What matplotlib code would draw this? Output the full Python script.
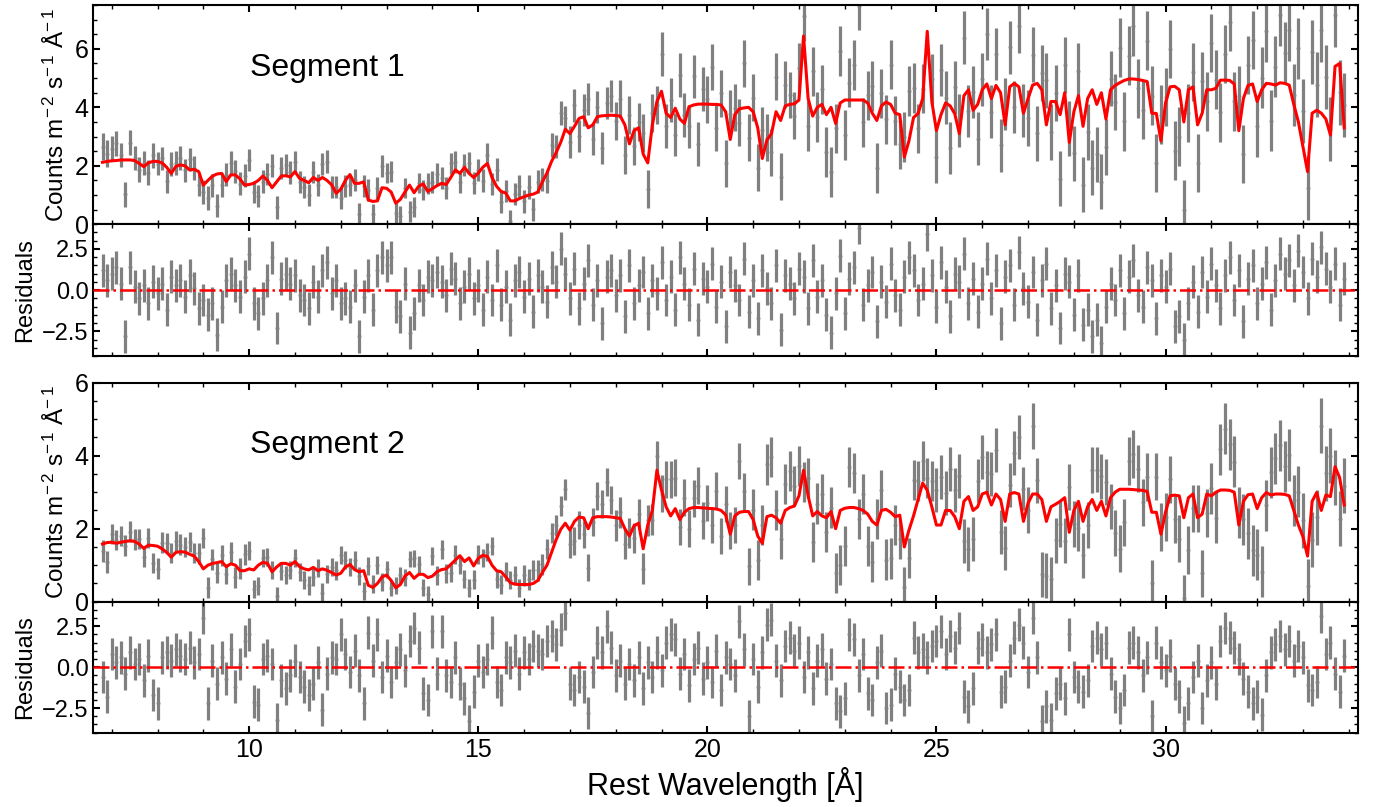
import numpy as np
import matplotlib
matplotlib.use("Agg")
import matplotlib.pyplot as plt
from matplotlib.ticker import MultipleLocator

plt.rcParams['font.family'] = ['Liberation Sans', 'DejaVu Sans']
plt.rcParams['mathtext.fontset'] = 'custom'
plt.rcParams['mathtext.rm'] = 'Liberation Sans'
plt.rcParams['mathtext.it'] = 'Liberation Sans:italic'
plt.rcParams['mathtext.default'] = 'regular'

# rest wavelength bins, 0.1 A wide
wave = np.round(np.arange(6.8, 33.95, 0.1), 1)

# ---- Segment 1 ----
model1 = [
    2.12, 2.15,
    2.17, 2.18, 2.20, 2.20, 2.20, 2.18, 2.08, 1.97, 2.10, 2.15,
    2.15, 2.10, 1.95, 1.74, 1.98, 2.03, 2.00, 1.86, 1.88, 1.80,
    1.34, 1.50, 1.65, 1.72, 1.74, 1.46, 1.69, 1.69, 1.55, 1.34,
    1.36, 1.40, 1.50, 1.65, 1.50, 1.25, 1.45, 1.65, 1.66, 1.62,
    1.80, 1.57, 1.50, 1.42, 1.60, 1.50, 1.60, 1.50, 1.35, 1.06,
    1.20, 1.50, 1.70, 1.40, 1.40, 1.45, 0.83, 0.78, 0.80, 1.25,
    1.23, 1.10, 0.72, 0.85, 1.10, 1.34, 1.08, 1.30, 1.38, 1.12,
    1.22, 1.32, 1.40, 1.36, 1.60, 1.86, 1.74, 1.95, 1.74, 1.60,
    1.75, 1.95, 2.08, 1.60, 1.30, 1.12, 1.07, 0.80, 0.80, 0.88,
    0.94, 1.00, 1.03, 1.10, 1.45, 1.75, 2.15, 2.45, 2.80, 3.25,
    3.10, 3.35, 3.62, 3.68, 3.30, 3.40, 3.68, 3.71, 3.72, 3.73,
    3.72, 3.70, 3.40, 2.75, 3.20, 3.30, 2.40, 2.10, 3.40, 4.20,
    4.55, 3.80, 3.65, 3.97, 3.60, 3.45, 4.02, 4.08, 4.11, 4.11,
    4.11, 4.10, 4.10, 4.08, 3.85, 2.90, 3.75, 3.95, 3.98, 4.00,
    3.85, 3.30, 2.25, 2.88, 3.10, 3.85, 3.55, 4.05, 4.10, 4.12,
    4.25, 6.44, 4.30, 3.70, 4.00, 4.10, 3.75, 4.00, 3.45, 4.15,
    4.25, 4.25, 4.25, 4.25, 4.25, 4.15, 3.80, 3.55, 4.05, 4.18,
    4.10, 3.80, 3.75, 2.30, 2.85, 3.65, 3.79, 4.30, 6.60, 4.20,
    3.20, 3.75, 4.15, 4.05, 3.78, 3.10, 4.40, 4.60, 3.90, 4.10,
    4.60, 4.80, 4.30, 4.75, 4.50, 3.40, 4.70, 4.82, 4.70, 3.80,
    4.30, 4.76, 4.82, 4.60, 3.40, 4.20, 4.20, 3.75, 4.50, 2.80,
    3.85, 4.40, 3.35, 4.30, 4.60, 4.10, 4.50, 3.60, 4.60, 4.75,
    4.84, 4.92, 4.97, 4.97, 4.95, 4.92, 4.88, 3.80, 3.79, 2.85,
    4.15, 4.70, 4.72, 4.60, 3.50, 4.60, 4.70, 3.40, 3.80, 4.60,
    4.60, 4.65, 4.93, 4.93, 4.92, 4.80, 3.20, 4.30, 4.75, 4.80,
    4.20, 4.60, 4.82, 4.80, 4.76, 4.84, 4.82, 4.76, 4.10, 3.50,
    2.66, 1.80, 3.80, 3.90, 3.80, 3.60, 3.05, 5.40, 5.50, 3.30,
]
resid1 = [
    1.2, 0.6,
    1.0, 1.4, 0.4, -2.8, 1.4, 0.2, -0.5, 0.3, -0.8, 0.5,
    -0.2, 0.4, -1.2, 0.8, 0.3, 0.6, -0.4, 0.9, 0.1, -1.1,
    -0.6, -1.5, -0.8, -2.7, -1.0, 0.6, 1.0, 0.3, -0.4, 0.8,
    2.2, -0.8, -1.4, -0.5, 0.6, 2.0, -2.3, 0.7, 1.0, 0.4,
    0.9, -0.3, -0.6, -1.1, 0.5, -0.4, 1.2, 1.7, -0.2, 0.6,
    -0.8, -0.5, -1.0, 0.3, -2.8, -0.4, 0.9, -1.2, 1.2, 2.0,
    1.5, 2.0, -1.0, -1.6, 0.4, -2.6, -1.4, 0.3, -0.6, 0.8,
    0.6, 1.1, 0.5, -0.3, 1.3, 0.7, -0.8, 0.2, 1.0, -0.5,
    0.3, -1.2, 0.8, -0.6, 1.5, -0.9, 0.2, -1.8, 0.6, 1.1,
    -0.4, 0.7, -1.3, 0.9, 0.2, -0.7, 1.4, 0.5, 2.5, 1.0,
    -0.5, 1.3, -1.1, 0.4, 1.8, -0.9, 0.6, -2.0, 0.8, 1.2,
    -0.3, 0.9, -1.6, 1.5, -0.8, 0.3, 1.1, -1.4, 0.6, -0.2,
    1.7, -0.6, 0.8, -1.2, 2.0, 0.4, -0.9, 1.3, -1.8, 0.7,
    0.2, 1.6, -1.0, 0.5, -2.2, 1.1, 0.3, -0.6, 1.9, -1.3,
    0.6, -1.7, 1.2, 0.1, -0.8, 1.5, -2.4, 0.9, 0.4, -0.5,
    1.3, 0.8, -1.1, 1.8, -0.4, 0.6, -1.5, -2.6, -0.2, 2.1,
    -1.4, 0.7, 1.4, 3.8, -0.9, 0.3, 1.1, -1.9, 0.5, -0.7,
    1.6, -0.3, -1.2, 0.8, 2.0, 1.2, -0.6, 0.4, 3.4, 0.9,
    -1.0, 1.7, 0.2, -1.6, 1.0, 0.5, 2.2, -0.8, 0.7, -1.3,
    0.4, 1.9, -0.5, 1.2, -2.0, 0.8, 1.5, -0.9, 2.3, 0.1,
    -0.7, 1.1, -1.8, 0.6, 1.6, -1.1, 0.3, -2.3, 1.0, 0.5,
    -1.5, 0.9, -2.1, -1.2, -2.8, -1.8, -3.2, -1.0, 0.4, -0.6,
    1.2, -1.4, 0.8, 1.8, -0.3, -1.0, 1.4, 0.6, -1.7, 0.9,
    0.2, 1.3, -2.2, -1.6, -3.0, -0.8, 0.5, -1.3, 1.1, -0.4,
    1.6, 0.3, -1.1, 0.9, 2.0, -0.6, 1.2, -1.9, 0.7, 1.5,
    -0.8, 0.4, 1.7, -1.2, 0.6, 2.2, 1.0, 1.8, 0.3, 2.4,
    1.1, -0.5, 1.9, 0.8, 2.6, 1.3, 0.2, 1.6, -0.9, 0.7,
]
# 1-sigma flux errors per whole Angstrom (6 A ... 33 A)
err1_levels = [0.45, 0.42, 0.40, 0.40, 0.38, 0.38, 0.37, 0.35, 0.37, 0.38,
               0.40, 0.55, 0.65, 0.75, 0.80, 0.80, 0.85, 0.85, 0.85, 0.90,
               0.90, 0.95, 0.95, 1.00, 1.00, 1.00, 1.05, 1.10]

# ---- Segment 2 ----
model2 = [
    1.58, 1.62,
    1.63, 1.60, 1.63, 1.65, 1.67, 1.65, 1.58, 1.46, 1.55, 1.54,
    1.52, 1.45, 1.35, 1.22, 1.35, 1.37, 1.36, 1.30, 1.25, 1.10,
    0.90, 1.00, 1.05, 1.07, 1.10, 0.96, 1.04, 1.00, 0.85, 0.85,
    0.90, 0.87, 1.00, 1.08, 1.05, 0.82, 0.95, 1.05, 1.05, 1.00,
    1.10, 0.96, 0.90, 0.87, 0.94, 0.85, 0.90, 0.86, 0.80, 0.73,
    0.78, 0.95, 1.02, 0.88, 0.82, 0.85, 0.45, 0.39, 0.50, 0.68,
    0.73, 0.58, 0.38, 0.47, 0.70, 0.80, 0.64, 0.75, 0.75, 0.66,
    0.70, 0.82, 0.88, 0.90, 1.02, 1.14, 1.26, 1.10, 1.20, 0.98,
    1.19, 1.27, 1.24, 1.00, 0.85, 0.82, 0.68, 0.52, 0.48, 0.47,
    0.47, 0.47, 0.50, 0.58, 0.80, 1.00, 1.35, 1.70, 1.98, 2.15,
    1.96, 2.20, 2.32, 2.30, 2.00, 2.30, 2.33, 2.33, 2.33, 2.32,
    2.30, 2.28, 2.00, 1.80, 2.08, 2.15, 1.45, 2.10, 2.50, 3.60,
    3.06, 2.60, 2.35, 2.55, 2.25, 2.45, 2.55, 2.58, 2.58, 2.57,
    2.56, 2.55, 2.54, 2.50, 2.38, 1.85, 2.35, 2.45, 2.47, 2.47,
    2.25, 1.80, 1.60, 2.33, 2.37, 2.30, 2.15, 2.50, 2.58, 2.62,
    2.90, 3.60, 2.90, 2.35, 2.47, 2.35, 2.30, 2.47, 2.00, 2.50,
    2.56, 2.58, 2.58, 2.55, 2.50, 2.40, 2.20, 2.10, 2.50, 2.53,
    2.45, 2.33, 2.37, 1.50, 1.96, 2.35, 2.80, 3.25, 3.05, 2.60,
    2.10, 2.10, 2.50, 2.50, 2.33, 2.00, 2.75, 2.88, 2.50, 2.60,
    2.95, 3.00, 2.65, 2.95, 2.80, 2.20, 2.95, 2.99, 2.95, 2.20,
    2.70, 2.95, 2.95, 2.80, 2.20, 2.60, 2.67, 2.75, 2.85, 1.90,
    2.50, 2.75, 2.20, 2.60, 2.80, 2.50, 2.75, 2.35, 2.85, 3.00,
    3.08, 3.08, 3.08, 3.07, 3.06, 3.05, 3.02, 2.45, 2.45, 1.85,
    2.45, 2.90, 2.92, 2.90, 2.30, 2.85, 2.95, 2.30, 2.40, 2.95,
    2.90, 3.00, 3.06, 3.06, 3.05, 3.00, 2.10, 2.75, 2.93, 2.95,
    2.55, 2.85, 2.99, 2.92, 2.95, 2.95, 2.94, 2.90, 2.50, 2.10,
    1.78, 1.25, 2.75, 2.99, 2.50, 2.92, 2.88, 3.70, 3.40, 2.65,
]
resid2 = [
    -0.6, -1.8,
    0.8, 0.3, 0.6, -0.4, 0.9, 0.2, 0.5, -0.8, 0.7, -1.7,
    -2.2, 0.6, 0.9, 0.4, 1.1, 0.7, 0.5, 1.2, 0.3, 0.8,
    3.0, -2.2, 0.4, -1.0, 0.6, -0.7, 1.1, -1.2, 0.2, 1.6,
    2.0, -2.1, -2.3, 0.5, 0.7, 0.2, -3.2, -0.8, -1.3, -0.5,
    0.4, -0.6, -1.2, -1.7, -1.0, 0.3, -2.6, -0.4, 0.6, 0.5,
    2.0, 0.8, -0.3, 1.0, -0.5, -2.2, 2.1, 0.4, 2.0, -0.6,
    0.7, -0.9, 0.3, 1.1, -0.2, 1.6, 2.4, 1.2, -1.6, -2.0,
    2.2, -0.4, 2.2, -0.5, -0.9, 0.6, -1.0, -1.9, -3.3, -1.5,
    0.4, -0.3, 0.5, 2.1, -0.9, -1.4, 0.6, 0.3, 1.0, -0.4,
    0.9, 0.5, 1.3, 1.0, 0.8, 1.6, 1.9, 1.4, 2.3, 3.3,
    -1.0, -1.4, -0.6, -1.2, -2.8, -0.3, 1.5, 0.9, 2.5, 1.2,
    -0.5, 0.4, -1.0, 0.2, -0.8, 0.6, -1.3, 0.3, -0.6, 0.9,
    -0.2, 1.5, 2.0, 1.7, -0.4, 0.8, -1.1, 0.5, 1.2, -0.7,
    0.3, -0.9, 1.0, -1.4, 0.6, 0.2, -0.5, 2.8, 1.1, -3.0,
    0.5, -1.2, 0.9, 2.6, 2.9, 0.4, -0.8, 1.3, 1.8, 1.0,
    1.5, -0.6, 0.9, -1.3, 0.4, 1.1, -0.7, 0.2, -2.2, -2.7,
    -1.9, 2.0, 1.7, -0.5, 0.8, -1.6, -2.0, 0.3, 1.0, -2.5,
    -2.3, -0.4, -1.2, -2.0, -1.4, 1.8, 0.9, 1.1, 0.6, 1.3,
    1.6, 2.2, 0.8, 1.9, 1.2, 2.4, -1.8, -2.4, -1.3, 1.2,
    1.7, 0.9, 1.4, 2.0, -1.5, -1.2, 0.4, 1.8, 2.6, 1.5,
    -0.3, 3.0, 0.6, -3.3, -2.4, -3.2, -1.6, -1.0, -1.9, 2.0,
    -0.6, -1.2, -1.5, -0.8, 1.3, 1.8, 1.1, 1.5, -0.4, -1.8,
    -2.5, -1.4, 1.2, 1.5, 0.9, -0.5, 0.6, -3.0, 1.5, 0.3,
    -0.2, 0.7, -1.0, -1.8, -3.4, -2.2, -0.6, 0.4, -2.5, -0.8,
    0.3, -1.0, 1.6, 2.4, 1.8, 1.2, 0.5, -0.7, -1.5, -2.2,
    -1.8, -2.9, -0.5, 0.9, 1.4, 1.9, 1.1, 1.6, 0.4, 1.3,
    0.6, -1.1, -1.4, -0.9, 3.1, 0.8, 1.5, -0.4, -1.5, 0.7,
]
err2_levels = [0.30, 0.28, 0.28, 0.28, 0.25, 0.25, 0.25, 0.23, 0.25, 0.25,
               0.28, 0.38, 0.42, 0.50, 0.50, 0.55, 0.55, 0.55, 0.55, 0.60,
               0.60, 0.62, 0.62, 0.65, 0.65, 0.70, 0.70, 0.75]

segments = [
    ("Segment 1", model1, resid1, err1_levels, 7.5),
    ("Segment 2", model2, resid2, err2_levels, 6.0),
]

fig = plt.figure(figsize=(13.75, 8.07), dpi=100)
left, width = 0.0679, 0.9197
rects = [
    ((left, 0.7221, width, 0.2717), (left, 0.5589, width, 0.1632)),
    ((left, 0.2544, width, 0.2714), (left, 0.0921, width, 0.1623)),
]
ylab = r'Counts m$^{-\,2}$ s$^{-\,1}$ Å$^{-\,1}$'


def style_axis(ax, ymajor, labelsize):
    ax.set_xlim(6.6, 34.2)
    ax.xaxis.set_major_locator(MultipleLocator(5))
    ax.xaxis.set_minor_locator(MultipleLocator(1))
    ax.yaxis.set_major_locator(MultipleLocator(ymajor))
    ax.yaxis.set_minor_locator(MultipleLocator(0.5))
    ax.tick_params(which='both', direction='in', top=True, right=True,
                   labelsize=labelsize)
    ax.tick_params(which='major', length=5, width=1.5)
    ax.tick_params(which='minor', length=3, width=1.0)
    for sp in ax.spines.values():
        sp.set_linewidth(1.5)


gray = '#808080'
for i, (name, model, resid, err_levels, ytop) in enumerate(segments):
    model = np.array(model)
    resid = np.array(resid)
    assert len(model) == len(wave) and len(resid) == len(wave)
    err = np.array(err_levels)[wave.astype(int) - 6]
    flux = model + resid * err

    ax = fig.add_axes(rects[i][0])
    rax = fig.add_axes(rects[i][1], sharex=ax)

    ax.errorbar(wave, flux, yerr=err, fmt='o', ms=1.8, color=gray,
                ecolor=gray, elinewidth=2.3, capsize=0, zorder=1)
    ax.plot(wave, model, color='red', lw=2.2, zorder=3)
    ax.set_ylim(0, ytop)
    style_axis(ax, 2, 18)
    ax.tick_params(labelbottom=False)
    ax.set_ylabel(ylab, fontsize=17.5)
    ax.text(0.124, 0.677, name, transform=ax.transAxes, fontsize=23,
            ha='left', va='baseline')

    rax.errorbar(wave, resid, yerr=np.ones_like(resid), fmt='o', ms=1.8,
                 color=gray, ecolor=gray, elinewidth=2.3, capsize=0, zorder=1)
    rax.axhline(0, color='red', ls='-.', lw=1.8, zorder=3)
    rax.set_ylim(-4, 4)
    style_axis(rax, 2.5, 17)
    rax.set_ylabel('Residuals', fontsize=17)
    if i == 0:
        rax.tick_params(labelbottom=False)
    else:
        rax.tick_params(labelsize=18, axis='x')
        rax.set_xlabel('Rest Wavelength [Å]', fontsize=22)

fig.savefig('out.png', dpi=100)
